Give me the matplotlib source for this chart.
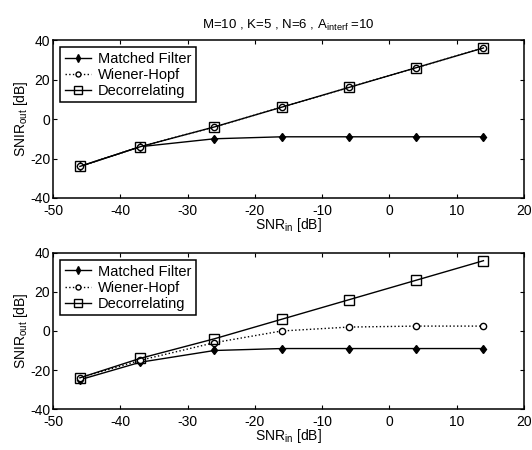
import matplotlib
matplotlib.use('Agg')
import matplotlib.pyplot as plt

plt.rcParams['font.family'] = ['Liberation Sans', 'DejaVu Sans']
plt.rcParams['font.size'] = 10
plt.rcParams['axes.unicode_minus'] = False
plt.rcParams['mathtext.fontset'] = 'custom'
plt.rcParams['mathtext.rm'] = 'Liberation Sans'
plt.rcParams['mathtext.it'] = 'Liberation Sans'

snr_in = [-46, -37, -26, -16, -6, 4, 14]

# top panel
mf_top = [-24, -14, -10, -9, -9, -9, -9]
wh_top = [-24, -14, -4, 6, 16, 26, 36]
dec_top = [-24, -14, -4, 6, 16, 26, 36]

# bottom panel
mf_bot = [-25, -16, -10, -9, -9, -9, -9]
wh_bot = [-24, -15, -6, 0, 2, 2.5, 2.5]
dec_bot = [-24, -14, -4, 6, 16, 26, 36]

labels = ['Matched Filter', 'Wiener-Hopf', 'Decorrelating']

fig = plt.figure(figsize=(5.32, 4.5), dpi=100)
ax1 = fig.add_axes([0.0996, 0.56, 0.885, 0.351])
ax2 = fig.add_axes([0.0996, 0.091, 0.885, 0.347])


def draw(ax, mf, wh, dec):
    ax.plot(snr_in, mf, '-', color='black', lw=1.0, marker='d', ms=4.5,
            mfc='black', label=labels[0])
    ax.plot(snr_in, wh, ':', color='black', lw=1.0, marker='o', ms=4.5,
            mfc='white', label=labels[1])
    ax.plot(snr_in, dec, '-', color='black', lw=1.0, marker='s', ms=7.5,
            mfc='none', label=labels[2])
    ax.set_xlim(-50, 20)
    ax.set_ylim(-40, 40)
    ax.set_xticks(range(-50, 21, 10))
    ax.set_yticks(range(-40, 41, 20))
    ax.tick_params(direction='in', top=True, right=True, length=3, labelsize=10)
    ax.tick_params(axis='x', pad=4)
    ax.tick_params(axis='y', pad=2)
    for s in ax.spines.values():
        s.set_linewidth(1.1)
    ax.set_xlabel('SNR$_{\\mathregular{in}}$ [dB]', labelpad=-1)
    ax.set_ylabel('SNIR$_{\\mathregular{out}}$ [dB]', labelpad=0)
    leg = ax.legend(loc='upper left', fancybox=False, framealpha=1,
                    edgecolor='black', borderpad=0.3, labelspacing=0.15,
                    handlelength=1.8, handletextpad=0.5, markerscale=0.8,
                    fontsize=10.5)
    leg.get_frame().set_linewidth(1.1)


draw(ax1, mf_top, wh_top, dec_top)
draw(ax2, mf_bot, wh_bot, dec_bot)
ax1.set_title('M=10 , K=5 , N=6 , A$_{\\mathregular{interf}}$ =10', fontsize=9.5, pad=8)

fig.savefig('out.png', dpi=100)
